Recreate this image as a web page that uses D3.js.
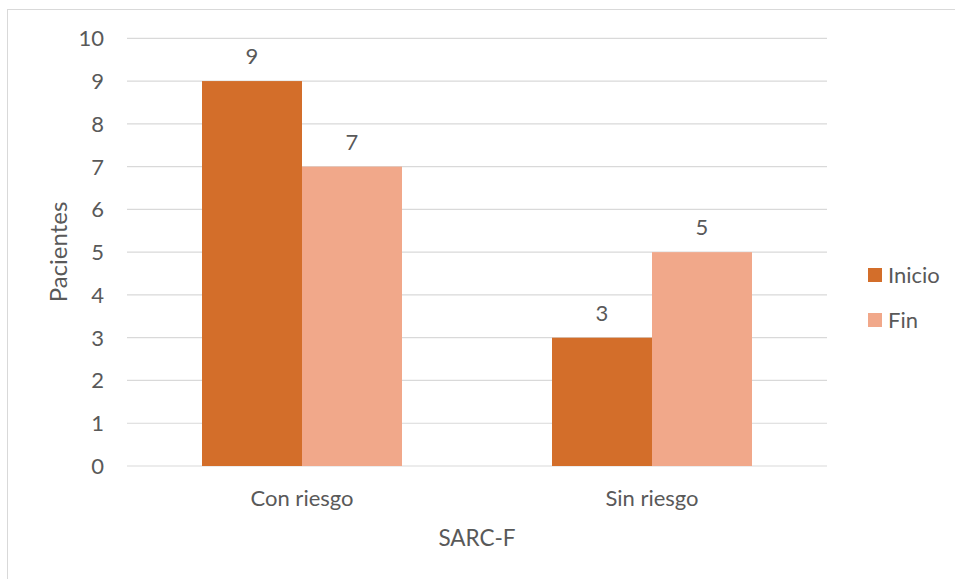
<!DOCTYPE html>
<html><head><meta charset="utf-8">
<script src="https://cdn.jsdelivr.net/npm/d3@7"></script>
<style>body{margin:0;background:#fff}svg{display:block}text{font-family:Lato,"Open Sans",sans-serif;fill:#595959}</style>
</head><body><svg id="c" width="955" height="579"></svg>
<script>
const categories = ["Con riesgo", "Sin riesgo"];
const seriesNames = ["Inicio", "Fin"];
const inicio = [9, 3];
const fin = [7, 5];
const yTicks = [0,1,2,3,4,5,6,7,8,9,10];
const colors = ["#D36E2A", "#F1A88A"];
const seriesVals = [inicio, fin];

const svg = d3.select("#c");
svg.append("rect").attr("x",7.5).attr("y",9.5).attr("width",1000).attr("height",1000)
  .attr("fill","none").attr("stroke","#d9d9d9");

const m = {l:127, r:827, t:38.3, b:466};
const x = d3.scaleBand().domain(categories).range([m.l, m.r]).paddingInner(0).paddingOuter(0);
const xs = d3.scaleBand().domain(seriesNames).range([0, x.bandwidth()]).paddingInner(0).paddingOuter(0.75);
const y = d3.scaleLinear().domain([0,10]).range([m.b, m.t]);

// gridlines
svg.append("g").selectAll("line").data(yTicks).join("line")
  .attr("x1",m.l).attr("x2",m.r).attr("y1",d=>y(d)).attr("y2",d=>y(d))
  .attr("stroke","#d9d9d9").attr("stroke-width",1.2);

// y labels
svg.append("g").selectAll("text").data(yTicks).join("text")
  .attr("x",104).attr("y",d=>y(d)).attr("text-anchor","end").attr("dy","0.36em")
  .attr("font-size",22).text(d=>d);

// bars
seriesNames.forEach((s,i)=>{
  const g = svg.append("g");
  g.selectAll("rect").data(categories).join("rect")
    .attr("x",c=>x(c)+xs(s)).attr("width",xs.bandwidth())
    .attr("y",(c,j)=>y(seriesVals[i][j])).attr("height",(c,j)=>y(0)-y(seriesVals[i][j]))
    .attr("fill",colors[i]);
  g.selectAll("text").data(categories).join("text")
    .attr("x",c=>x(c)+xs(s)+xs.bandwidth()/2)
    .attr("y",(c,j)=>y(seriesVals[i][j])-25).attr("dy","0.36em").attr("text-anchor","middle")
    .attr("font-size",22).text((c,j)=>seriesVals[i][j]);
});

// x labels
svg.append("g").selectAll("text").data(categories).join("text")
  .attr("x",c=>x(c)+x.bandwidth()/2).attr("y",498).attr("dy","0.36em")
  .attr("text-anchor","middle").attr("font-size",22).text(d=>d);

// axis titles
svg.append("text").attr("x",477).attr("y",538).attr("dy","0.36em").attr("text-anchor","middle")
  .attr("font-size",22.5).text("SARC-F");
svg.append("text").attr("transform","translate(58,252) rotate(-90)").attr("dy","0.36em")
  .attr("text-anchor","middle").attr("font-size",24).text("Pacientes");

// legend
const lg = svg.append("g");
seriesNames.forEach((s,i)=>{
  const cy = 275 + i*45;
  lg.append("rect").attr("x",868).attr("y",cy-7).attr("width",14).attr("height",14).attr("fill",colors[i]);
  lg.append("text").attr("x",888).attr("y",cy).attr("dy","0.36em").attr("font-size",22).text(s);
});
</script></body></html>
